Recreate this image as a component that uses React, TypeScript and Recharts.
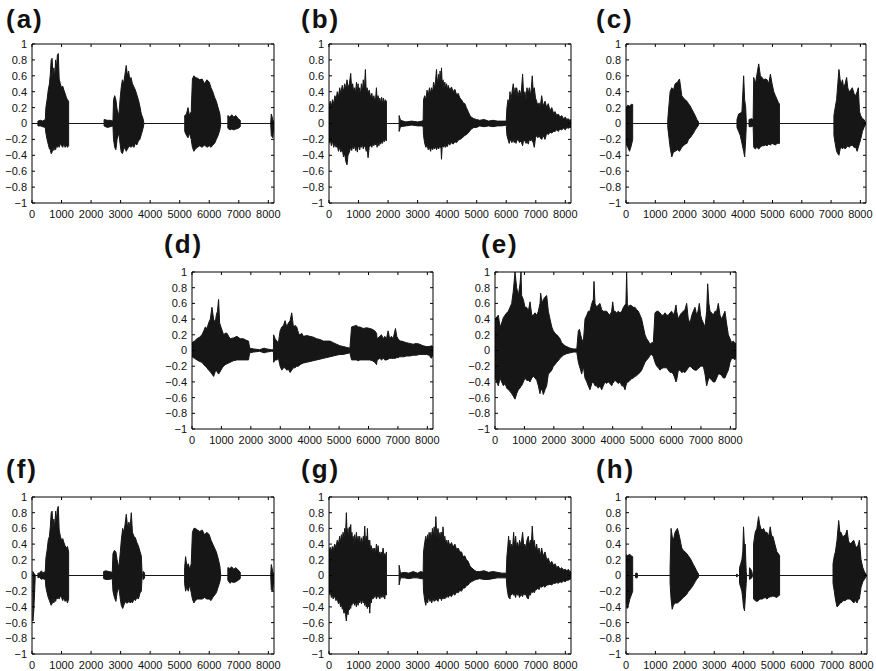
import React from "react"
import { ComposedChart, Area, XAxis, YAxis } from "recharts"

// x in samples (0..8192), envelope of the waveform as [sample, upper, lower]
type Pt = [number, number, number]

const X_TICKS = [0, 1000, 2000, 3000, 4000, 5000, 6000, 7000, 8000]
const Y_TICKS = [-1, -0.8, -0.6, -0.4, -0.2, 0, 0.2, 0.4, 0.6, 0.8, 1]

const waveA: Pt[] = [
  [0, 0, 0], [200, 0, 0], [200, 0.03, -0.03], [290, 0.04, -0.03], [360, 0.03, -0.04], [450, 0.05, -0.05],
  [470, 0.2, -0.12], [510, 0.3, -0.2], [550, 0.42, -0.26], [590, 0.5, -0.32], [620, 0.62, -0.33], [650, 0.8, -0.38],
  [680, 0.82, -0.36], [710, 0.6, -0.3], [740, 0.7, -0.34], [770, 0.58, -0.3], [800, 0.8, -0.33], [830, 0.7, -0.28],
  [860, 0.86, -0.3], [890, 0.88, -0.27], [920, 0.56, -0.3], [960, 0.5, -0.25], [1000, 0.45, -0.28], [1040, 0.47, -0.3],
  [1080, 0.42, -0.25], [1120, 0.38, -0.3], [1160, 0.33, -0.27], [1200, 0.3, -0.3], [1240, 0.28, -0.28], [1240, 0, 0],
  [2440, 0, 0], [2440, 0.05, -0.03], [2550, 0.04, -0.05], [2650, 0.04, -0.04], [2740, 0.03, -0.03],
  [2760, 0.3, -0.2], [2800, 0.35, -0.3], [2840, 0.3, -0.33], [2880, 0.18, -0.2], [2940, 0.1, -0.12], [2980, 0.3, -0.25],
  [3020, 0.45, -0.36], [3060, 0.55, -0.38], [3100, 0.5, -0.33], [3140, 0.6, -0.3], [3190, 0.73, -0.35], [3230, 0.6, -0.32],
  [3270, 0.66, -0.3], [3310, 0.55, -0.28], [3350, 0.58, -0.3], [3400, 0.5, -0.28], [3450, 0.46, -0.3], [3500, 0.42, -0.25],
  [3550, 0.36, -0.27], [3600, 0.3, -0.22], [3650, 0.22, -0.2], [3700, 0.12, -0.14], [3760, 0.06, -0.06], [3790, 0, 0],
  [5170, 0, 0], [5170, 0.1, -0.1], [5230, 0.12, -0.15], [5280, 0.2, -0.18], [5330, 0.1, -0.12], [5390, 0.15, -0.2],
  [5430, 0.56, -0.3], [5480, 0.6, -0.35], [5530, 0.58, -0.32], [5600, 0.57, -0.3], [5680, 0.55, -0.28], [5760, 0.56, -0.3],
  [5840, 0.5, -0.27], [5920, 0.55, -0.3], [6000, 0.52, -0.28], [6060, 0.45, -0.3], [6120, 0.4, -0.27], [6180, 0.33, -0.25],
  [6240, 0.28, -0.2], [6300, 0.2, -0.15], [6360, 0.12, -0.08], [6390, 0, 0],
  [6630, 0, 0], [6630, 0.1, -0.06], [6700, 0.08, -0.08], [6760, 0.11, -0.07], [6830, 0.08, -0.08], [6900, 0.1, -0.07],
  [6980, 0.06, -0.06], [7050, 0.04, -0.04], [7050, 0, 0],
  [8080, 0, 0], [8100, 0.12, -0.15], [8150, 0.05, -0.18], [8192, 0, 0],
]

const waveB: Pt[] = [
  [0, 0.2, -0.25], [40, 0.28, -0.2], [80, 0.22, -0.28], [120, 0.3, -0.22], [160, 0.25, -0.3], [200, 0.35, -0.25],
  [240, 0.3, -0.3], [280, 0.4, -0.27], [320, 0.33, -0.35], [362, 0.45, -0.3], [400, 0.38, -0.36], [450, 0.48, -0.32],
  [490, 0.4, -0.42], [531, 0.5, -0.38], [570, 0.44, -0.48], [610, 0.55, -0.52], [644, 0.45, -0.4], [690, 0.5, -0.36],
  [735, 0.63, -0.3], [770, 0.42, -0.34], [800, 0.5, -0.28], [835, 0.4, -0.32], [870, 0.45, -0.27], [900, 0.38, -0.34],
  [930, 0.52, -0.3], [960, 0.4, -0.36], [983, 0.5, -0.3], [1010, 0.38, -0.28], [1040, 0.45, -0.33], [1070, 0.36, -0.27],
  [1096, 0.5, -0.3], [1130, 0.4, -0.26], [1160, 0.55, -0.32], [1195, 0.42, -0.28], [1232, 0.68, -0.3], [1260, 0.4, -0.35],
  [1290, 0.45, -0.3], [1322, 0.38, -0.43], [1360, 0.42, -0.3], [1413, 0.32, -0.27], [1450, 0.38, -0.3], [1480, 0.3, -0.25],
  [1520, 0.35, -0.28], [1548, 0.28, -0.24], [1580, 0.32, -0.27], [1605, 0.45, -0.25], [1630, 0.3, -0.3], [1660, 0.35, -0.24],
  [1690, 0.27, -0.28], [1718, 0.32, -0.22], [1750, 0.26, -0.26], [1780, 0.33, -0.22], [1810, 0.25, -0.25], [1840, 0.32, -0.2],
  [1870, 0.25, -0.23], [1900, 0.3, -0.2], [1944, 0.28, -0.22], [1944, 0, 0],
  [2373, 0, 0], [2373, 0.1, -0.1], [2420, 0.04, -0.04], [2600, 0.02, -0.03], [2800, 0.03, -0.02], [3000, 0.02, -0.03],
  [3150, 0.03, -0.03], [3187, 0.04, -0.04],
  [3200, 0.3, -0.15], [3240, 0.35, -0.25], [3280, 0.3, -0.3], [3320, 0.42, -0.27], [3360, 0.35, -0.33], [3400, 0.45, -0.3],
  [3440, 0.38, -0.35], [3469, 0.45, -0.3], [3510, 0.4, -0.33], [3540, 0.52, -0.3], [3582, 0.45, -0.32], [3610, 0.55, -0.28],
  [3639, 0.68, -0.33], [3670, 0.5, -0.3], [3718, 0.62, -0.32], [3740, 0.48, -0.28], [3760, 0.66, -0.3], [3790, 0.5, -0.3],
  [3808, 0.7, -0.45], [3830, 0.5, -0.3], [3860, 0.55, -0.28], [3890, 0.45, -0.3], [3921, 0.52, -0.26], [3950, 0.44, -0.3],
  [3980, 0.5, -0.27], [4010, 0.42, -0.29], [4034, 0.48, -0.25], [4090, 0.42, -0.27], [4147, 0.46, -0.24], [4200, 0.4, -0.26],
  [4260, 0.43, -0.23], [4320, 0.36, -0.24], [4373, 0.38, -0.21], [4430, 0.32, -0.2], [4486, 0.3, -0.19], [4540, 0.26, -0.17],
  [4599, 0.25, -0.15], [4650, 0.2, -0.14], [4712, 0.15, -0.12], [4770, 0.1, -0.09], [4825, 0.08, -0.07], [4900, 0.06, -0.05],
  [4995, 0.05, -0.05],
  [5100, 0.04, -0.03], [5250, 0.05, -0.04], [5400, 0.03, -0.03], [5550, 0.04, -0.04], [5700, 0.03, -0.03],
  [5850, 0.03, -0.03], [6000, 0.03, -0.02],
  [6023, 0.2, -0.15], [6060, 0.3, -0.2], [6100, 0.25, -0.25], [6125, 0.4, -0.22], [6160, 0.3, -0.2], [6190, 0.38, -0.24],
  [6238, 0.5, -0.2], [6270, 0.35, -0.24], [6300, 0.45, -0.2], [6330, 0.35, -0.25], [6351, 0.45, -0.22], [6400, 0.35, -0.2],
  [6450, 0.42, -0.24], [6500, 0.35, -0.22], [6554, 0.62, -0.28], [6590, 0.35, -0.2], [6633, 0.4, -0.22], [6670, 0.3, -0.25],
  [6700, 0.45, -0.22], [6746, 0.38, -0.26], [6780, 0.45, -0.2], [6820, 0.35, -0.22], [6850, 0.45, -0.2], [6881, 0.6, -0.22],
  [6910, 0.42, -0.24], [6950, 0.45, -0.3], [6990, 0.32, -0.18], [7029, 0.28, -0.15], [7070, 0.22, -0.18], [7110, 0.26, -0.15],
  [7150, 0.2, -0.18], [7199, 0.35, -0.2], [7250, 0.22, -0.15], [7312, 0.28, -0.2], [7370, 0.2, -0.12], [7424, 0.25, -0.14],
  [7480, 0.16, -0.11], [7540, 0.2, -0.12], [7600, 0.13, -0.1], [7650, 0.15, -0.1], [7710, 0.1, -0.08], [7760, 0.12, -0.1],
  [7820, 0.08, -0.07], [7876, 0.1, -0.08], [7940, 0.06, -0.06], [8000, 0.08, -0.08], [8050, 0.05, -0.05], [8102, 0.06, -0.06],
  [8150, 0.04, -0.05], [8192, 0.05, -0.05],
]

const waveC: Pt[] = [
  [0, 0.2, -0.25], [60, 0.23, -0.3], [120, 0.22, -0.35], [180, 0.24, -0.28], [228, 0.24, -0.2], [228, 0, 0],
  [1426, 0, 0], [1426, 0.05, -0.05], [1506, 0.4, -0.3], [1563, 0.45, -0.42], [1620, 0.42, -0.36], [1677, 0.5, -0.35],
  [1757, 0.52, -0.33], [1826, 0.56, -0.35], [1905, 0.35, -0.3], [1960, 0.32, -0.28], [2020, 0.3, -0.26], [2080, 0.28, -0.25],
  [2134, 0.25, -0.2], [2190, 0.22, -0.18], [2248, 0.18, -0.15], [2305, 0.14, -0.12], [2362, 0.1, -0.08], [2420, 0.05, -0.05],
  [2476, 0.02, -0.02], [2476, 0, 0],
  [3788, 0, 0], [3788, 0.05, -0.05], [3845, 0.12, -0.1], [3900, 0.13, -0.15], [3958, 0.15, -0.25], [4016, 0.6, -0.35],
  [4050, 0.3, -0.42], [4086, 0.2, -0.2], [4108, 0, 0],
  [4199, 0, 0], [4199, 0.05, -0.04], [4280, 0.06, -0.04], [4340, 0.05, -0.03], [4359, 0.58, -0.3], [4416, 0.5, -0.32],
  [4470, 0.62, -0.3], [4530, 0.75, -0.32], [4587, 0.6, -0.3], [4640, 0.58, -0.28], [4701, 0.55, -0.28], [4760, 0.56, -0.27],
  [4815, 0.55, -0.28], [4870, 0.5, -0.26], [4929, 0.62, -0.27], [4986, 0.5, -0.25], [5043, 0.4, -0.26], [5100, 0.35, -0.27],
  [5160, 0.3, -0.25], [5214, 0.25, -0.25], [5237, 0.25, -0.25], [5237, 0, 0],
  [7097, 0, 0], [7097, 0.1, -0.15], [7140, 0.2, -0.25], [7188, 0.3, -0.35], [7230, 0.5, -0.38], [7268, 0.68, -0.4],
  [7310, 0.55, -0.32], [7348, 0.5, -0.3], [7390, 0.55, -0.32], [7428, 0.45, -0.3], [7480, 0.5, -0.32], [7530, 0.58, -0.3],
  [7570, 0.45, -0.28], [7611, 0.4, -0.3], [7670, 0.42, -0.28], [7725, 0.45, -0.27], [7780, 0.38, -0.3], [7839, 0.35, -0.3],
  [7890, 0.4, -0.35], [7930, 0.45, -0.3], [7970, 0.15, -0.25], [8010, 0.1, -0.2], [8070, 0.06, -0.1], [8124, 0.05, -0.05],
  [8192, 0, 0],
]

const waveD: Pt[] = [
  [0, 0.1, -0.08], [85, 0.12, -0.1], [170, 0.15, -0.12], [255, 0.17, -0.14], [339, 0.2, -0.15], [400, 0.25, -0.18],
  [452, 0.3, -0.2], [509, 0.28, -0.22], [565, 0.35, -0.25], [622, 0.4, -0.27], [678, 0.55, -0.3], [735, 0.4, -0.33],
  [790, 0.35, -0.27], [825, 0.45, -0.25], [865, 0.5, -0.28], [904, 0.65, -0.3], [940, 0.35, -0.28], [983, 0.3, -0.25],
  [1030, 0.25, -0.22], [1074, 0.2, -0.2], [1130, 0.22, -0.18], [1187, 0.22, -0.17], [1245, 0.18, -0.16], [1300, 0.15, -0.15],
  [1410, 0.16, -0.13], [1526, 0.18, -0.12], [1640, 0.15, -0.12], [1752, 0.15, -0.12], [1840, 0.13, -0.12], [1921, 0.12, -0.12],
  [1960, 0.03, -0.03], [2091, 0.02, -0.02], [2300, 0.01, -0.01], [2373, 0.02, -0.02], [2450, 0.03, -0.03], [2543, 0.02, -0.02],
  [2700, 0.01, -0.01], [2768, 0.01, -0.01],
  [2775, 0.2, -0.15], [2825, 0.15, -0.12], [2882, 0.12, -0.12], [2938, 0.1, -0.1], [2995, 0.25, -0.2], [3051, 0.3, -0.25],
  [3110, 0.32, -0.22], [3164, 0.38, -0.22], [3221, 0.3, -0.25], [3277, 0.35, -0.24], [3334, 0.38, -0.28], [3390, 0.48, -0.25],
  [3447, 0.3, -0.22], [3500, 0.32, -0.22], [3560, 0.3, -0.2], [3620, 0.22, -0.2], [3673, 0.2, -0.18], [3730, 0.22, -0.17],
  [3786, 0.18, -0.16], [3899, 0.19, -0.15], [4012, 0.18, -0.14], [4125, 0.17, -0.13], [4238, 0.15, -0.12], [4350, 0.14, -0.11],
  [4464, 0.12, -0.1], [4580, 0.12, -0.09], [4690, 0.12, -0.08], [4800, 0.1, -0.07], [4916, 0.08, -0.06], [5030, 0.06, -0.05],
  [5142, 0.05, -0.05], [5250, 0.04, -0.04], [5368, 0.03, -0.03],
  [5424, 0.3, -0.12], [5500, 0.31, -0.12], [5594, 0.32, -0.12], [5650, 0.3, -0.13], [5707, 0.3, -0.12], [5820, 0.28, -0.12],
  [5930, 0.29, -0.12], [6046, 0.28, -0.12], [6130, 0.27, -0.13], [6215, 0.25, -0.15], [6272, 0.22, -0.18], [6294, 0.15, -0.12],
  [6385, 0.18, -0.1], [6441, 0.2, -0.12], [6500, 0.15, -0.1], [6554, 0.18, -0.12], [6611, 0.15, -0.12], [6667, 0.25, -0.11],
  [6720, 0.15, -0.1], [6780, 0.18, -0.1], [6837, 0.15, -0.1], [6916, 0.28, -0.1], [6960, 0.18, -0.09], [7006, 0.15, -0.09],
  [7063, 0.12, -0.08], [7119, 0.12, -0.08], [7200, 0.11, -0.08], [7289, 0.1, -0.07], [7400, 0.09, -0.07], [7515, 0.08, -0.06],
  [7630, 0.09, -0.06], [7741, 0.08, -0.05], [7854, 0.06, -0.05], [7967, 0.05, -0.05], [8060, 0.05, -0.06], [8136, 0.06, -0.1],
  [8192, 0.05, -0.05],
]

const waveE: Pt[] = [
  [0, 0.4, -0.35], [113, 0.45, -0.45], [170, 0.3, -0.35], [227, 0.35, -0.4], [285, 0.42, -0.45], [340, 0.45, -0.42],
  [400, 0.48, -0.48], [453, 0.5, -0.5], [510, 0.55, -0.52], [567, 0.6, -0.55], [620, 0.75, -0.58], [680, 1.0, -0.62],
  [737, 0.8, -0.55], [793, 0.7, -0.5], [850, 0.85, -0.48], [884, 1.0, -0.45], [906, 0.7, -0.45], [963, 0.65, -0.4],
  [1020, 0.55, -0.35], [1076, 0.55, -0.38], [1133, 0.5, -0.38], [1190, 0.62, -0.4], [1250, 0.45, -0.35], [1303, 0.45, -0.33],
  [1360, 0.48, -0.35], [1420, 0.45, -0.38], [1473, 0.5, -0.45], [1530, 0.6, -0.55], [1552, 0.73, -0.5], [1600, 0.6, -0.5],
  [1643, 0.65, -0.56], [1700, 0.68, -0.5], [1756, 0.7, -0.45], [1813, 0.5, -0.3], [1870, 0.4, -0.28], [1930, 0.3, -0.25],
  [1983, 0.25, -0.2], [2040, 0.22, -0.18], [2096, 0.2, -0.15], [2150, 0.18, -0.13], [2209, 0.15, -0.1], [2266, 0.1, -0.08],
  [2323, 0.08, -0.06], [2380, 0.06, -0.05], [2436, 0.05, -0.04], [2550, 0.03, -0.03], [2663, 0.02, -0.02], [2780, 0.02, -0.02],
  [2833, 0.25, -0.15], [2870, 0.27, -0.2], [2912, 0.2, -0.25], [2946, 0.15, -0.3], [3002, 0.1, -0.2], [3059, 0.4, -0.35],
  [3120, 0.45, -0.4], [3170, 0.5, -0.45], [3229, 0.5, -0.5], [3290, 0.6, -0.42], [3342, 0.65, -0.4], [3365, 0.88, -0.42],
  [3400, 0.6, -0.45], [3455, 0.55, -0.45], [3510, 0.58, -0.48], [3569, 0.6, -0.45], [3626, 0.52, -0.5], [3682, 0.5, -0.45],
  [3740, 0.5, -0.4], [3796, 0.5, -0.42], [3850, 0.47, -0.4], [3909, 0.45, -0.42], [3966, 0.5, -0.45], [4000, 0.62, -0.42],
  [4040, 0.5, -0.4], [4079, 0.5, -0.38], [4135, 0.48, -0.4], [4190, 0.5, -0.42], [4249, 0.48, -0.4], [4310, 0.5, -0.45],
  [4365, 0.55, -0.45], [4419, 0.58, -0.5], [4450, 0.6, -0.45], [4475, 1.0, -0.42], [4500, 0.6, -0.4], [4532, 0.55, -0.4],
  [4590, 0.58, -0.38], [4645, 0.57, -0.36], [4702, 0.55, -0.35], [4759, 0.55, -0.33], [4815, 0.52, -0.32], [4872, 0.5, -0.3],
  [4930, 0.45, -0.28], [4985, 0.4, -0.25], [5042, 0.3, -0.2], [5099, 0.2, -0.15], [5155, 0.15, -0.12], [5212, 0.12, -0.1],
  [5268, 0.08, -0.06], [5330, 0.1, -0.05], [5382, 0.1, -0.08],
  [5438, 0.48, -0.15], [5495, 0.5, -0.2], [5552, 0.5, -0.22], [5608, 0.48, -0.25], [5665, 0.45, -0.23], [5722, 0.45, -0.22],
  [5780, 0.48, -0.22], [5835, 0.45, -0.22], [5892, 0.45, -0.25], [5950, 0.48, -0.28], [6005, 0.5, -0.28], [6062, 0.45, -0.3],
  [6110, 0.5, -0.35], [6152, 0.58, -0.4], [6175, 0.5, -0.38], [6232, 0.4, -0.25], [6288, 0.45, -0.25], [6345, 0.48, -0.28],
  [6401, 0.5, -0.27], [6458, 0.52, -0.28], [6515, 0.6, -0.25], [6570, 0.4, -0.22], [6628, 0.35, -0.2], [6690, 0.45, -0.22],
  [6740, 0.5, -0.24], [6798, 0.55, -0.25], [6855, 0.45, -0.25], [6900, 0.5, -0.23], [6945, 0.6, -0.22], [6990, 0.45, -0.2],
  [7024, 0.4, -0.2], [7081, 0.35, -0.2], [7138, 0.3, -0.3], [7195, 0.5, -0.45], [7229, 0.85, -0.4], [7270, 0.6, -0.35],
  [7308, 0.5, -0.35], [7365, 0.48, -0.38], [7421, 0.45, -0.4], [7478, 0.5, -0.4], [7535, 0.5, -0.35], [7591, 0.6, -0.3],
  [7648, 0.45, -0.3], [7704, 0.4, -0.32], [7760, 0.45, -0.35], [7817, 0.5, -0.35], [7870, 0.35, -0.3], [7931, 0.2, -0.25],
  [7990, 0.15, -0.15], [8044, 0.1, -0.1], [8100, 0.12, -0.1], [8150, 0.1, -0.12], [8192, 0.08, -0.08],
]

const waveF: Pt[] = [
  [0, 0, 0], [30, 0, 0], [30, 0.05, -0.58], [60, 0.03, -0.45], [90, 0.02, -0.2], [110, 0, 0], [200, 0, 0],
  [200, 0.03, -0.03], [250, 0.03, -0.02], [320, 0.06, -0.05], [360, 0.03, -0.04], [450, 0.05, -0.05],
  [470, 0.22, -0.15], [510, 0.32, -0.22], [550, 0.45, -0.28], [590, 0.5, -0.32], [620, 0.62, -0.35], [650, 0.8, -0.38],
  [680, 0.82, -0.36], [710, 0.6, -0.3], [740, 0.72, -0.35], [770, 0.6, -0.3], [800, 0.82, -0.33], [830, 0.7, -0.28],
  [860, 0.85, -0.3], [890, 0.88, -0.28], [920, 0.58, -0.3], [960, 0.5, -0.26], [1000, 0.45, -0.28], [1040, 0.47, -0.32],
  [1080, 0.42, -0.28], [1120, 0.38, -0.33], [1160, 0.35, -0.3], [1200, 0.37, -0.35], [1240, 0.3, -0.3], [1240, 0, 0],
  [2425, 0, 0], [2425, 0.05, -0.04], [2500, 0.06, -0.05], [2600, 0.05, -0.05], [2718, 0.04, -0.04],
  [2741, 0.28, -0.2], [2790, 0.32, -0.28], [2840, 0.3, -0.33], [2880, 0.2, -0.22], [2940, 0.1, -0.15], [2990, 0.3, -0.3],
  [3023, 0.45, -0.38], [3070, 0.6, -0.42], [3110, 0.55, -0.38], [3150, 0.65, -0.33], [3192, 0.78, -0.35], [3240, 0.6, -0.35],
  [3280, 0.68, -0.32], [3320, 0.6, -0.35], [3361, 0.8, -0.33], [3400, 0.55, -0.35], [3450, 0.5, -0.3], [3500, 0.48, -0.32],
  [3550, 0.42, -0.28], [3600, 0.38, -0.3], [3660, 0.3, -0.22], [3700, 0.25, -0.2], [3730, 0, 0], [3750, 0, 0],
  [3760, 0.05, -0.05], [3800, 0.04, -0.04], [3820, 0, 0],
  [5166, 0, 0], [5166, 0.1, -0.1], [5200, 0.24, -0.2], [5240, 0.12, -0.15], [5290, 0.15, -0.2], [5340, 0.08, -0.12],
  [5390, 0.15, -0.22], [5430, 0.55, -0.3], [5480, 0.6, -0.35], [5530, 0.6, -0.32], [5600, 0.58, -0.3], [5680, 0.56, -0.3],
  [5760, 0.58, -0.3], [5840, 0.52, -0.28], [5920, 0.55, -0.3], [6000, 0.52, -0.3], [6060, 0.45, -0.32], [6120, 0.4, -0.28],
  [6180, 0.35, -0.25], [6240, 0.3, -0.22], [6300, 0.22, -0.15], [6360, 0.12, -0.08], [6390, 0, 0],
  [6630, 0, 0], [6630, 0.1, -0.06], [6700, 0.09, -0.1], [6760, 0.11, -0.08], [6830, 0.08, -0.09], [6900, 0.1, -0.08],
  [6980, 0.07, -0.06], [7050, 0.04, -0.04], [7050, 0, 0],
  [8080, 0, 0], [8100, 0.14, -0.18], [8150, 0.05, -0.2], [8192, 0, 0],
]

const waveG: Pt[] = [
  [0, 0.3, -0.25], [40, 0.36, -0.2], [79, 0.3, -0.28], [110, 0.37, -0.24], [140, 0.32, -0.3], [192, 0.4, -0.26],
  [235, 0.36, -0.32], [280, 0.45, -0.3], [320, 0.4, -0.36], [362, 0.5, -0.33], [390, 0.42, -0.4], [420, 0.52, -0.36],
  [450, 0.45, -0.43], [475, 0.55, -0.4], [505, 0.48, -0.48], [530, 0.6, -0.45], [560, 0.52, -0.5], [588, 0.8, -0.58],
  [615, 0.5, -0.45], [644, 0.6, -0.5], [670, 0.45, -0.4], [690, 0.62, -0.44], [715, 0.48, -0.36], [735, 0.65, -0.42],
  [760, 0.45, -0.34], [775, 0.55, -0.38], [800, 0.42, -0.32], [814, 0.5, -0.36], [845, 0.4, -0.33], [870, 0.52, -0.38],
  [900, 0.42, -0.34], [927, 0.55, -0.4], [955, 0.42, -0.32], [985, 0.5, -0.38], [1010, 0.4, -0.3], [1040, 0.5, -0.35],
  [1070, 0.4, -0.3], [1100, 0.48, -0.36], [1130, 0.4, -0.3], [1160, 0.5, -0.35], [1185, 0.42, -0.32], [1209, 0.63, -0.38],
  [1235, 0.42, -0.33], [1260, 0.5, -0.4], [1280, 0.4, -0.33], [1300, 0.6, -0.42], [1320, 0.4, -0.32], [1340, 0.45, -0.4],
  [1360, 0.35, -0.33], [1379, 0.45, -0.48], [1405, 0.33, -0.3], [1430, 0.38, -0.35], [1460, 0.3, -0.28], [1492, 0.35, -0.3],
  [1520, 0.28, -0.25], [1548, 0.35, -0.28], [1575, 0.28, -0.24], [1605, 0.4, -0.3], [1635, 0.28, -0.25], [1661, 0.38, -0.28],
  [1690, 0.27, -0.24], [1720, 0.3, -0.3], [1750, 0.25, -0.24], [1774, 0.3, -0.28], [1800, 0.25, -0.23], [1830, 0.35, -0.28],
  [1860, 0.25, -0.24], [1887, 0.28, -0.3], [1915, 0.24, -0.22], [1944, 0.3, -0.25], [1944, 0, 0],
  [2373, 0, 0], [2373, 0.13, -0.12], [2420, 0.03, -0.03], [2550, 0.04, -0.03], [2700, 0.03, -0.04], [2850, 0.05, -0.03],
  [3000, 0.03, -0.03], [3100, 0.05, -0.04], [3187, 0.04, -0.04],
  [3200, 0.3, -0.2], [3240, 0.42, -0.32], [3277, 0.5, -0.38], [3310, 0.42, -0.3], [3340, 0.52, -0.35], [3365, 0.44, -0.28],
  [3390, 0.55, -0.3], [3420, 0.45, -0.33], [3450, 0.55, -0.3], [3475, 0.46, -0.35], [3500, 0.6, -0.32], [3530, 0.5, -0.3],
  [3560, 0.62, -0.33], [3590, 0.5, -0.3], [3616, 0.75, -0.32], [3650, 0.5, -0.3], [3690, 0.6, -0.33], [3720, 0.48, -0.28],
  [3760, 0.55, -0.3], [3785, 0.45, -0.28], [3808, 0.55, -0.32], [3835, 0.45, -0.27], [3860, 0.62, -0.3], [3890, 0.45, -0.27],
  [3921, 0.5, -0.3], [3950, 0.4, -0.26], [3980, 0.45, -0.28], [4010, 0.38, -0.25], [4034, 0.45, -0.28], [4090, 0.38, -0.25],
  [4147, 0.42, -0.27], [4200, 0.36, -0.23], [4260, 0.4, -0.25], [4320, 0.33, -0.21], [4373, 0.35, -0.22], [4430, 0.3, -0.19],
  [4486, 0.3, -0.2], [4540, 0.24, -0.16], [4599, 0.25, -0.16], [4650, 0.2, -0.13], [4712, 0.18, -0.12], [4770, 0.12, -0.09],
  [4825, 0.1, -0.08], [4910, 0.07, -0.06], [4995, 0.05, -0.05],
  [5100, 0.05, -0.04], [5250, 0.06, -0.05], [5400, 0.04, -0.05], [5550, 0.05, -0.04], [5700, 0.04, -0.03],
  [5850, 0.03, -0.03], [6000, 0.03, -0.03],
  [6023, 0.25, -0.15], [6050, 0.35, -0.22], [6080, 0.5, -0.28], [6100, 0.35, -0.25], [6125, 0.45, -0.3], [6150, 0.32, -0.22],
  [6180, 0.4, -0.25], [6215, 0.35, -0.22], [6250, 0.55, -0.25], [6280, 0.38, -0.24], [6317, 0.5, -0.28], [6350, 0.35, -0.22],
  [6380, 0.42, -0.25], [6415, 0.35, -0.24], [6450, 0.45, -0.28], [6500, 0.38, -0.24], [6554, 0.55, -0.27], [6590, 0.38, -0.22],
  [6633, 0.4, -0.25], [6670, 0.33, -0.24], [6700, 0.45, -0.28], [6746, 0.5, -0.3], [6780, 0.38, -0.24], [6820, 0.45, -0.25],
  [6850, 0.4, -0.2], [6881, 0.63, -0.22], [6915, 0.4, -0.2], [6950, 0.45, -0.22], [6990, 0.32, -0.18], [7029, 0.4, -0.18],
  [7070, 0.28, -0.16], [7110, 0.35, -0.18], [7150, 0.25, -0.14], [7199, 0.35, -0.15], [7250, 0.25, -0.13], [7312, 0.3, -0.15],
  [7370, 0.2, -0.12], [7424, 0.22, -0.12], [7480, 0.15, -0.11], [7540, 0.18, -0.12], [7600, 0.13, -0.1], [7650, 0.15, -0.1],
  [7710, 0.1, -0.09], [7760, 0.12, -0.1], [7820, 0.08, -0.08], [7876, 0.1, -0.09], [7940, 0.07, -0.07], [8000, 0.08, -0.08],
  [8050, 0.06, -0.06], [8102, 0.08, -0.06], [8150, 0.05, -0.05], [8192, 0.05, -0.04],
]

const waveH: Pt[] = [
  [0, 0.27, -0.3], [40, 0.25, -0.42], [80, 0.26, -0.38], [130, 0.27, -0.3], [180, 0.25, -0.25], [227, 0.24, -0.2],
  [227, 0, 0], [320, 0, 0], [330, 0.03, -0.03], [380, 0.03, -0.03], [400, 0, 0],
  [1498, 0, 0], [1498, 0.1, -0.1], [1532, 0.6, -0.3], [1570, 0.5, -0.43], [1612, 0.45, -0.38], [1668, 0.55, -0.35],
  [1748, 0.6, -0.35], [1816, 0.5, -0.33], [1895, 0.35, -0.3], [1950, 0.32, -0.28], [2009, 0.3, -0.26], [2065, 0.28, -0.24],
  [2122, 0.25, -0.2], [2180, 0.22, -0.18], [2236, 0.18, -0.15], [2290, 0.14, -0.12], [2349, 0.1, -0.08], [2400, 0.06, -0.05],
  [2463, 0.02, -0.02], [2463, 0, 0],
  [3740, 0, 0], [3768, 0.02, -0.02], [3800, 0, 0], [3859, 0, 0], [3859, 0.1, -0.1], [3900, 0.15, -0.15],
  [3938, 0.2, -0.2], [3970, 0.3, -0.3], [3995, 0.62, -0.4], [4029, 0.35, -0.45], [4052, 0.4, -0.3], [4086, 0.05, -0.1],
  [4100, 0, 0],
  [4190, 0, 0], [4200, 0.1, -0.05], [4240, 0.08, -0.04], [4279, 0.05, -0.03], [4300, 0, 0],
  [4336, 0, 0], [4336, 0.4, -0.3], [4392, 0.55, -0.32], [4449, 0.6, -0.33], [4506, 0.75, -0.32], [4545, 0.65, -0.3],
  [4585, 0.6, -0.3], [4630, 0.58, -0.3], [4676, 0.6, -0.29], [4730, 0.55, -0.28], [4790, 0.55, -0.3], [4850, 0.5, -0.28],
  [4903, 0.62, -0.27], [4950, 0.5, -0.27], [4994, 0.5, -0.26], [5060, 0.4, -0.27], [5130, 0.3, -0.28], [5180, 0.28, -0.26],
  [5221, 0.25, -0.25], [5221, 0, 0],
  [7037, 0, 0], [7037, 0.15, -0.1], [7080, 0.25, -0.2], [7117, 0.3, -0.3], [7173, 0.45, -0.4], [7230, 0.7, -0.38],
  [7270, 0.55, -0.35], [7310, 0.55, -0.35], [7355, 0.5, -0.33], [7400, 0.5, -0.32], [7460, 0.52, -0.32], [7514, 0.58, -0.3],
  [7560, 0.45, -0.3], [7605, 0.4, -0.3], [7670, 0.42, -0.32], [7741, 0.45, -0.35], [7800, 0.38, -0.32], [7854, 0.35, -0.35],
  [7900, 0.4, -0.3], [7933, 0.45, -0.3], [7990, 0.2, -0.15], [8050, 0.1, -0.08], [8104, 0.05, -0.05], [8150, 0.02, -0.02],
  [8192, 0, 0],
]

const FONT = "'Liberation Sans', Arial, Helvetica, sans-serif"
const INK = "#161616"

const fmtY = (v: number) => (v < 0 ? "\u2212" + String(Math.abs(v)) : String(v))
const blank = () => ""

interface PanelProps {
  label: string
  wave: Pt[]
  // plot box in page pixels
  x: number
  y: number
  w: number
  h: number
  lx: number
  ly: number
}

function Panel({ label, wave, x, y, w, h, lx, ly }: PanelProps) {
  const data = wave.map(([t, hi, lo]) => ({ t, range: [lo, hi] }))
  const tickFont = { fontSize: 11, fill: "#111", fontFamily: FONT }
  return (
    <>
      <div
        style={{
          position: "absolute",
          left: lx,
          top: ly,
          fontFamily: FONT,
          fontWeight: 700,
          fontSize: 26,
          lineHeight: 1,
          letterSpacing: 2,
          color: "#111",
        }}
      >
        {label}
      </div>
      <div style={{ position: "absolute", left: x - 36, top: y - 10 }}>
        <ComposedChart
          width={w + 44}
          height={h + 32}
          data={data}
          margin={{ top: 9, right: 7, bottom: 6, left: 6 }}
        >
          <XAxis
            dataKey="t"
            type="number"
            domain={[0, 8192]}
            allowDataOverflow
            ticks={X_TICKS}
            interval={0}
            height={16}
            tickSize={-3}
            tickMargin={10}
            tick={tickFont}
            stroke="#000"
          />
          <XAxis
            xAxisId="top"
            orientation="top"
            dataKey="t"
            type="number"
            domain={[0, 8192]}
            allowDataOverflow
            ticks={X_TICKS}
            interval={0}
            height={1}
            tickSize={-3}
            tickFormatter={blank}
            stroke="#000"
          />
          <YAxis
            type="number"
            domain={[-1, 1]}
            allowDataOverflow
            ticks={Y_TICKS}
            interval={0}
            width={30}
            tickSize={-3}
            tickMargin={8}
            tickFormatter={fmtY}
            tick={tickFont}
            stroke="#000"
          />
          <YAxis
            yAxisId="right"
            orientation="right"
            type="number"
            domain={[-1, 1]}
            allowDataOverflow
            ticks={Y_TICKS}
            interval={0}
            width={1}
            tickSize={-3}
            tickFormatter={blank}
            stroke="#000"
          />
          <Area
            dataKey="range"
            type="linear"
            fill={INK}
            fillOpacity={1}
            stroke={INK}
            strokeWidth={1}
            dot={false}
            activeDot={false}
            isAnimationActive={false}
          />
        </ComposedChart>
      </div>
    </>
  )
}

export default function App() {
  return (
    <div
      style={{
        position: "absolute",
        left: 0,
        top: 0,
        width: 876,
        height: 671,
        overflow: "hidden",
        background: "#fff",
      }}
    >
      <Panel label="(a)" wave={waveA} x={32} y={44} w={242} h={159} lx={6} ly={6} />
      <Panel label="(b)" wave={waveB} x={329} y={44} w={242} h={159} lx={301} ly={6} />
      <Panel label="(c)" wave={waveC} x={626} y={44} w={240} h={159} lx={596} ly={6} />
      <Panel label="(d)" wave={waveD} x={192} y={272} w={241} h={157} lx={164} ly={231} />
      <Panel label="(e)" wave={waveE} x={495} y={272} w={241} h={157} lx={481} ly={231} />
      <Panel label="(f)" wave={waveF} x={32} y={497} w={242} h={157} lx={6} ly={456} />
      <Panel label="(g)" wave={waveG} x={329} y={497} w={242} h={157} lx={301} ly={456} />
      <Panel label="(h)" wave={waveH} x={626} y={497} w={241} h={157} lx={596} ly={456} />
    </div>
  )
}
